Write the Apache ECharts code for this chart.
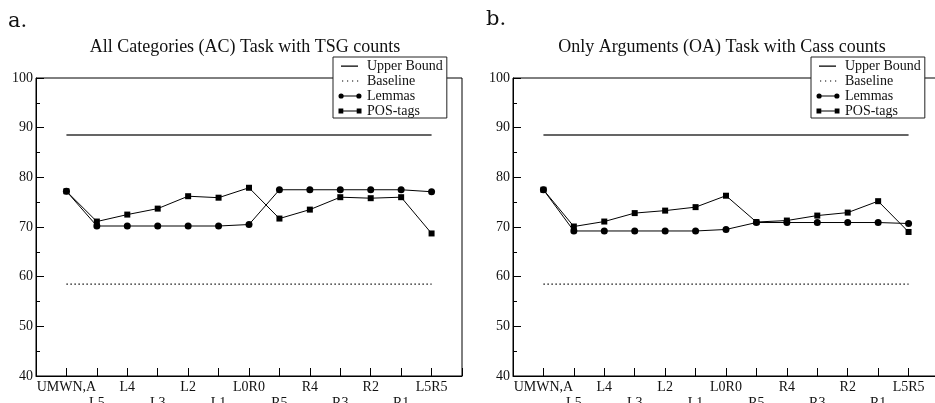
<!DOCTYPE html>
<html>
<head>
<meta charset="utf-8">
<script src="https://cdn.jsdelivr.net/npm/echarts@6/dist/echarts.min.js"></script>
<style>
  html, body { margin: 0; padding: 0; background: #fff; }
  #chart { width: 935px; height: 403px; }
</style>
</head>
<body>
<div id="chart"></div>
<script>
// x positions, one per window setting
const categories = ['UMWN,A', 'L5', 'L4', 'L3', 'L2', 'L1', 'L0R0', 'R5', 'R4', 'R3', 'R2', 'R1', 'L5R5'];
const seriesNames = ['Upper Bound', 'Baseline', 'Lemmas', 'POS-tags'];
const yTicks = [40, 50, 60, 70, 80, 90, 100];

// panel a: All Categories (AC), TSG counts
const upperA    = [88.5, 88.5, 88.5, 88.5, 88.5, 88.5, 88.5, 88.5, 88.5, 88.5, 88.5, 88.5, 88.5];
const baselineA = [58.5, 58.5, 58.5, 58.5, 58.5, 58.5, 58.5, 58.5, 58.5, 58.5, 58.5, 58.5, 58.5];
const lemmasA   = [77.2, 70.2, 70.2, 70.2, 70.2, 70.2, 70.5, 77.5, 77.5, 77.5, 77.5, 77.5, 77.1];
const posA      = [77.2, 71.1, 72.5, 73.7, 76.2, 75.9, 77.9, 71.7, 73.5, 76.0, 75.8, 76.0, 68.7];

// panel b: Only Arguments (OA), Cass counts
const upperB    = [88.5, 88.5, 88.5, 88.5, 88.5, 88.5, 88.5, 88.5, 88.5, 88.5, 88.5, 88.5, 88.5];
const baselineB = [58.5, 58.5, 58.5, 58.5, 58.5, 58.5, 58.5, 58.5, 58.5, 58.5, 58.5, 58.5, 58.5];
const lemmasB   = [77.5, 69.2, 69.2, 69.2, 69.2, 69.2, 69.5, 70.9, 70.9, 70.9, 70.9, 70.9, 70.7];
const posB      = [77.5, 70.1, 71.1, 72.8, 73.3, 74.0, 76.3, 71.0, 71.3, 72.3, 72.9, 75.2, 69.0];

const FONT = '"Liberation Serif", "Times New Roman", serif';

const pairs = vals => vals.map((v, i) => [i, v]);

// legend icons (first two zero-size pieces pin the box to 24x8)
const BOX = 'M0,0L0,0ZM24,8L24,8Z';
const icons = {
  'Upper Bound': 'path://' + BOX + 'M3,3.4L20,3.4L20,4.8L3,4.8Z',
  'Baseline': 'path://' + BOX + 'M4,3.4L5.2,3.4L5.2,4.6L4,4.6ZM9,3.4L10.2,3.4L10.2,4.6L9,4.6ZM14,3.4L15.2,3.4L15.2,4.6L14,4.6ZM19,3.4L20.2,3.4L20.2,4.6L19,4.6Z',
  'Lemmas': 'path://' + BOX + 'M0.5,4A2.6,2.6,0,1,1,5.7,4A2.6,2.6,0,1,1,0.5,4ZM5,3.5L19,3.5L19,4.5L5,4.5ZM18.3,4A2.6,2.6,0,1,1,23.5,4A2.6,2.6,0,1,1,18.3,4Z',
  'POS-tags': 'path://' + BOX + 'M0.5,1.6L5.3,1.6L5.3,6.4L0.5,6.4ZM5,3.5L19,3.5L19,4.5L5,4.5ZM18.7,1.6L23.5,1.6L23.5,6.4L18.7,6.4Z'
};

const makeLegend = left => ({
  orient: 'vertical',
  left: left,
  top: 57,
  padding: [2, 4, 0, 5],
  itemGap: 1,
  itemWidth: 24,
  itemHeight: 8,
  backgroundColor: '#fff',
  borderColor: '#222',
  borderWidth: 1,
  borderRadius: 0,
  selectedMode: false,
  itemStyle: { borderWidth: 0 },
  textStyle: { fontFamily: FONT, fontSize: 14, color: '#111', lineHeight: 14 },
  data: seriesNames.map(n => ({ name: n, icon: icons[n] }))
});

const makeX = idx => ({
  type: 'value',
  gridIndex: idx,
  min: -1,
  max: 13,
  interval: 1,
  axisLine: { lineStyle: { color: '#000', width: 1 } },
  axisTick: { inside: true, length: 8, lineStyle: { color: '#000' } },
  splitLine: { show: false },
  axisLabel: {
    margin: 3,
    fontFamily: FONT,
    fontSize: 14,
    color: '#111',
    lineHeight: 16,
    formatter: v => {
      if (v < 0 || v > 12) return '';
      const i = Math.round(v);
      return i % 2 ? '\n' + categories[i] : categories[i];
    }
  }
});

const makeY = idx => ({
  type: 'value',
  gridIndex: idx,
  min: yTicks[0],
  max: yTicks[yTicks.length - 1],
  interval: 10,
  axisLine: { show: true, onZero: false, lineStyle: { color: '#000', width: 1 } },
  axisTick: { show: true, inside: true, length: 8, lineStyle: { color: '#000' } },
  minorTick: { show: true, splitNumber: 2, length: 4, lineStyle: { color: '#000' } },
  splitLine: { show: false },
  axisLabel: { margin: 3, fontFamily: FONT, fontSize: 14, color: '#111' }
});

const makeSeries = (idx, upper, base, lem, pos) => [
  {
    name: 'Upper Bound', type: 'line', xAxisIndex: idx, yAxisIndex: idx,
    data: pairs(upper), showSymbol: false, symbol: 'none', color: '#000',
    lineStyle: { color: '#333', width: 1.5 }
  },
  {
    name: 'Baseline', type: 'line', xAxisIndex: idx, yAxisIndex: idx,
    data: pairs(base), showSymbol: false, symbol: 'none', color: '#000',
    lineStyle: { color: '#000', width: 1.4, type: [1.4, 2.6] }
  },
  {
    name: 'Lemmas', type: 'line', xAxisIndex: idx, yAxisIndex: idx,
    data: pairs(lem), symbol: 'circle', symbolSize: 7, color: '#000',
    itemStyle: { color: '#000', borderWidth: 0 },
    lineStyle: { color: '#000', width: 1 }
  },
  {
    name: 'POS-tags', type: 'line', xAxisIndex: idx, yAxisIndex: idx,
    data: pairs(pos), symbol: 'rect', symbolSize: 6, color: '#000',
    itemStyle: { color: '#000', borderWidth: 0 },
    lineStyle: { color: '#000', width: 1 }
  }
];

const label = (x, y, text, font, align) => ({
  type: 'text', x: x, y: y,
  style: { text: text, font: font, fill: '#111', textAlign: align, textVerticalAlign: 'middle' }
});

const gridBase = {
  top: 78, width: 426, height: 298, show: true,
  borderColor: '#000', borderWidth: 1, backgroundColor: 'transparent',
  containLabel: false, outerBoundsMode: 'none'
};

const chart = echarts.init(document.getElementById('chart'), null, { renderer: 'canvas' });
chart.setOption({
  animation: false,
  backgroundColor: '#fff',
  grid: [
    Object.assign({ left: 36 }, gridBase),
    Object.assign({ left: 513 }, gridBase)
  ],
  xAxis: [makeX(0), makeX(1)],
  yAxis: [makeY(0), makeY(1)],
  legend: [makeLegend(333), makeLegend(811)],
  graphic: [
    label(8, 22, 'a.', '21px "DejaVu Serif", serif', 'left'),
    label(486, 20, 'b.', '21px "DejaVu Serif", serif', 'left'),
    label(245, 47, 'All Categories (AC) Task with TSG counts', '18px ' + FONT, 'center'),
    label(722, 47, 'Only Arguments (OA) Task with Cass counts', '18px ' + FONT, 'center')
  ],
  series: [
    ...makeSeries(0, upperA, baselineA, lemmasA, posA),
    ...makeSeries(1, upperB, baselineB, lemmasB, posB)
  ]
});
</script>
</body>
</html>
